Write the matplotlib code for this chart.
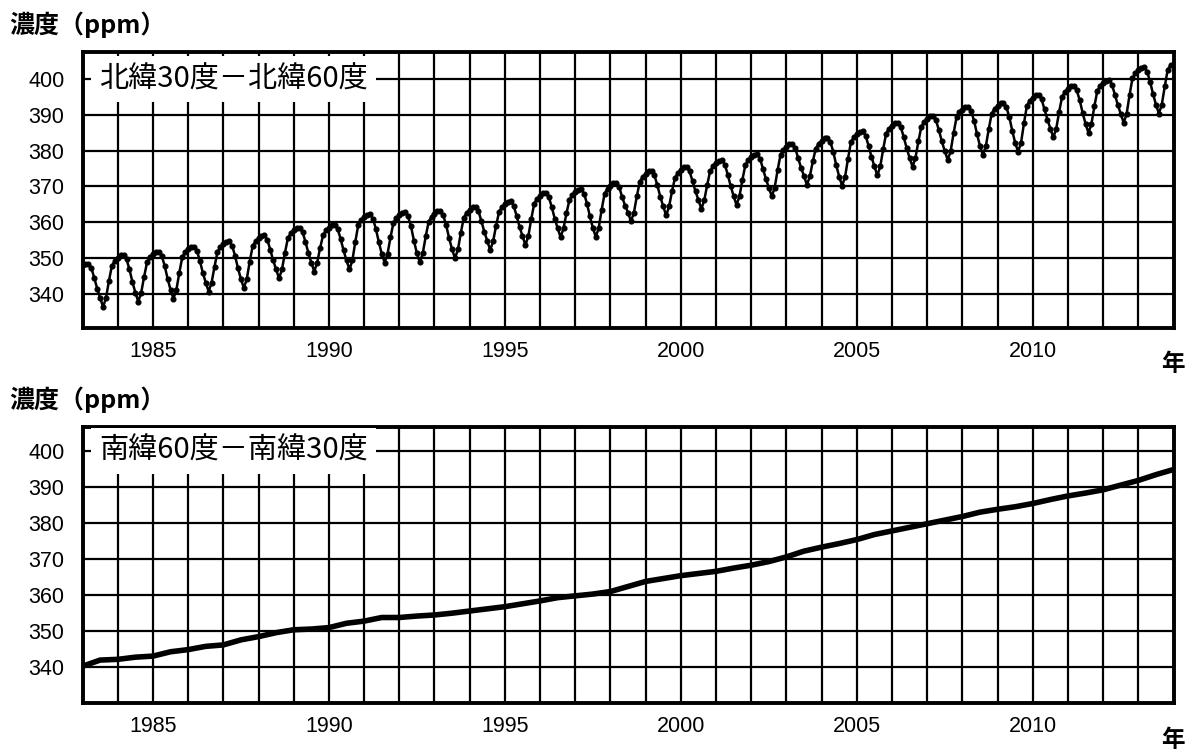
import numpy as np
import matplotlib
matplotlib.use('Agg')
import matplotlib.pyplot as plt

plt.rcParams['font.family'] = ['Liberation Sans', 'Noto Sans CJK JP']

# 北緯30度－北緯60度: monthly values, one row per year (Jan..Dec), 1983-2013
years = list(range(1983, 2014))
north_monthly = [
    [348.1, 348.3, 348.4, 347.2, 344.4, 341.4, 338.8, 336.3, 338.8, 343.6, 347.8, 349.2],  # 1983
    [350.0, 350.7, 350.8, 349.6, 346.8, 343.3, 340.3, 337.8, 340.3, 344.8, 348.8, 350.2],
    [351.0, 351.7, 351.8, 350.6, 347.8, 344.2, 341.1, 338.6, 341.1, 345.9, 350.2, 351.6],  # 1985
    [352.4, 353.1, 353.2, 352.0, 349.2, 345.9, 343.1, 340.6, 343.1, 347.6, 351.6, 353.0],
    [353.8, 354.5, 354.6, 353.4, 350.6, 347.1, 344.1, 341.6, 344.1, 349.0, 353.3, 354.7],
    [355.5, 356.2, 356.3, 355.1, 352.3, 349.3, 346.8, 344.3, 346.8, 351.4, 355.5, 356.9],
    [357.7, 358.4, 358.5, 357.3, 354.5, 351.4, 348.7, 346.2, 348.7, 352.8, 356.3, 357.7],
    [358.5, 359.2, 359.3, 358.1, 355.3, 352.1, 349.3, 346.8, 349.3, 354.5, 359.2, 360.6],  # 1990
    [361.4, 362.1, 362.2, 361.0, 358.2, 354.5, 351.2, 348.7, 351.2, 355.8, 359.8, 361.2],
    [362.0, 362.7, 362.8, 361.6, 358.8, 354.8, 351.3, 348.8, 351.3, 356.0, 360.1, 361.5],
    [362.3, 363.0, 363.1, 361.9, 359.1, 355.5, 352.4, 349.9, 352.4, 357.1, 361.3, 362.7],
    [363.5, 364.2, 364.3, 363.1, 360.3, 357.3, 354.7, 352.2, 354.7, 359.0, 362.8, 364.2],
    [365.0, 365.7, 365.8, 364.6, 361.8, 358.7, 356.1, 353.6, 356.1, 360.9, 365.2, 366.6],  # 1995
    [367.4, 368.1, 368.2, 367.0, 364.2, 361.0, 358.3, 355.8, 358.3, 362.5, 366.2, 367.6],
    [368.4, 369.1, 369.2, 368.0, 365.2, 361.6, 358.4, 355.9, 358.4, 363.5, 368.0, 369.4],
    [370.2, 370.9, 371.0, 369.8, 367.0, 364.6, 362.7, 360.2, 362.7, 367.3, 371.3, 372.7],
    [373.5, 374.2, 374.3, 373.1, 370.3, 367.1, 364.4, 361.9, 364.4, 368.7, 372.4, 373.8],
    [374.6, 375.3, 375.4, 374.2, 371.4, 368.6, 366.2, 363.7, 366.2, 370.5, 374.3, 375.7],  # 2000
    [376.5, 377.2, 377.3, 376.1, 373.3, 370.1, 367.3, 364.8, 367.3, 371.9, 376.0, 377.4],
    [378.2, 378.9, 379.0, 377.8, 375.0, 372.1, 369.7, 367.2, 369.7, 374.6, 378.9, 380.3],
    [381.1, 381.8, 381.9, 380.7, 377.9, 375.2, 372.9, 370.4, 372.9, 377.0, 380.6, 382.0],
    [382.8, 383.5, 383.6, 382.4, 379.6, 375.9, 372.7, 370.2, 372.7, 377.8, 382.4, 383.8],
    [384.6, 385.3, 385.4, 384.2, 381.4, 378.3, 375.6, 373.1, 375.6, 380.5, 384.8, 386.2],  # 2005
    [387.0, 387.7, 387.8, 386.6, 383.8, 380.7, 378.0, 375.5, 378.0, 382.6, 386.7, 388.1],
    [388.9, 389.6, 389.7, 388.5, 385.7, 382.6, 379.9, 377.4, 379.9, 384.9, 389.3, 390.7],
    [391.5, 392.2, 392.3, 391.1, 388.3, 384.6, 381.3, 378.8, 381.3, 386.1, 390.4, 391.8],
    [392.6, 393.3, 393.4, 392.2, 389.4, 385.6, 382.2, 379.7, 382.2, 387.7, 392.6, 394.0],
    [394.8, 395.5, 395.6, 394.4, 391.6, 388.7, 386.2, 383.7, 386.2, 390.9, 395.1, 396.5],  # 2010
    [397.3, 398.0, 398.1, 396.9, 394.1, 390.6, 387.5, 385.0, 387.5, 392.4, 396.7, 398.1],
    [398.9, 399.6, 399.7, 398.5, 395.7, 392.8, 390.3, 387.8, 390.3, 395.6, 400.3, 401.7],
    [402.5, 403.2, 403.3, 402.1, 399.3, 395.9, 392.9, 390.4, 392.9, 398.0, 402.6, 404.0],  # 2013
]

# 南緯60度－南緯30度: smooth series, read twice a year
south_t = [1983.0, 1983.5, 1984.0, 1984.5, 1985.0, 1985.5, 1986.0, 1986.5, 1987.0, 1987.5,
           1988.0, 1988.5, 1989.0, 1989.5, 1990.0, 1990.5, 1991.0, 1991.5, 1992.0, 1992.5,
           1993.0, 1993.5, 1994.0, 1994.5, 1995.0, 1995.5, 1996.0, 1996.5, 1997.0, 1997.5,
           1998.0, 1998.5, 1999.0, 1999.5, 2000.0, 2000.5, 2001.0, 2001.5, 2002.0, 2002.5,
           2003.0, 2003.5, 2004.0, 2004.5, 2005.0, 2005.5, 2006.0, 2006.5, 2007.0, 2007.5,
           2008.0, 2008.5, 2009.0, 2009.5, 2010.0, 2010.5, 2011.0, 2011.5, 2012.0, 2012.5,
           2013.0, 2013.5, 2013.92]
south_ppm = [340.3, 342.0, 342.2, 342.8, 343.1, 344.3, 344.9, 345.8, 346.2, 347.6,
             348.5, 349.6, 350.4, 350.6, 351.0, 352.2, 352.8, 353.8, 353.8, 354.2,
             354.5, 355.0, 355.6, 356.2, 356.8, 357.6, 358.4, 359.3, 359.8, 360.3,
             361.0, 362.4, 363.8, 364.6, 365.4, 366.0, 366.6, 367.5, 368.3, 369.3,
             370.6, 372.2, 373.3, 374.3, 375.4, 376.8, 377.8, 378.8, 379.8, 380.8,
             381.8, 383.0, 383.8, 384.5, 385.4, 386.5, 387.5, 388.3, 389.2, 390.5,
             391.8, 393.4, 394.6]

yticks = [340, 350, 360, 370, 380, 390, 400]
xlabels_years = [1985, 1990, 1995, 2000, 2005, 2010]

north_t = np.array([y + m / 12 for y in years for m in range(12)])
north_ppm = np.concatenate(north_monthly)

fig = plt.figure(figsize=(11.93, 7.53), dpi=100)
ax1 = fig.add_axes([0.0692, 0.5644, 0.9145, 0.3665])
ax2 = fig.add_axes([0.0692, 0.0664, 0.9145, 0.3665])

cjk = ['Noto Sans CJK JP', 'DejaVu Sans']


def style_axis(ax, ylim, label):
    ax.set_xlim(1983, 2014)
    ax.set_ylim(*ylim)
    ax.set_xticks(range(1983, 2015))
    ax.set_xticklabels([str(y) if y in xlabels_years else '' for y in range(1983, 2015)],
                       fontsize=15.5)
    ax.set_yticks(yticks)
    ax.set_yticklabels([str(v) for v in yticks], fontsize=15.5)
    ax.tick_params(axis='both', length=0)
    ax.tick_params(axis='y', pad=13)
    ax.tick_params(axis='x', pad=9)
    ax.set_axisbelow(True)
    ax.grid(True, color='black', linewidth=1.6)
    for sp in ax.spines.values():
        sp.set_linewidth(2.8)
    # region label sitting on the 400 ppm line
    ax.text(0.015, 400, label, transform=ax.get_yaxis_transform(),
            fontsize=21, family=cjk, va='center', ha='left', zorder=4,
            bbox=dict(boxstyle='square,pad=0.28', facecolor='white', edgecolor='none'))


ax1.plot(north_t, north_ppm, color='black', linewidth=1.8, marker='o', markersize=3.4)
style_axis(ax1, (330.4, 407.6), '北緯30度－北緯60度')

ax2.plot(south_t, south_ppm, color='black', linewidth=4)
style_axis(ax2, (330.1, 406.6), '南緯60度－南緯30度')

# axis titles
fig.text(0.008, 0.967, '濃度（ppm）', fontsize=18, fontweight='bold', family=cjk,
         va='center', ha='left')
fig.text(0.008, 0.469, '濃度（ppm）', fontsize=18, fontweight='bold', family=cjk,
         va='center', ha='left')
fig.text(0.983, 1 - 364 / 753, '年', fontsize=17, fontweight='bold', family=cjk,
         va='center', ha='center')
fig.text(0.983, 1 - 740 / 753, '年', fontsize=17, fontweight='bold', family=cjk,
         va='center', ha='center')

fig.savefig('out.png', dpi=100, facecolor='white')
